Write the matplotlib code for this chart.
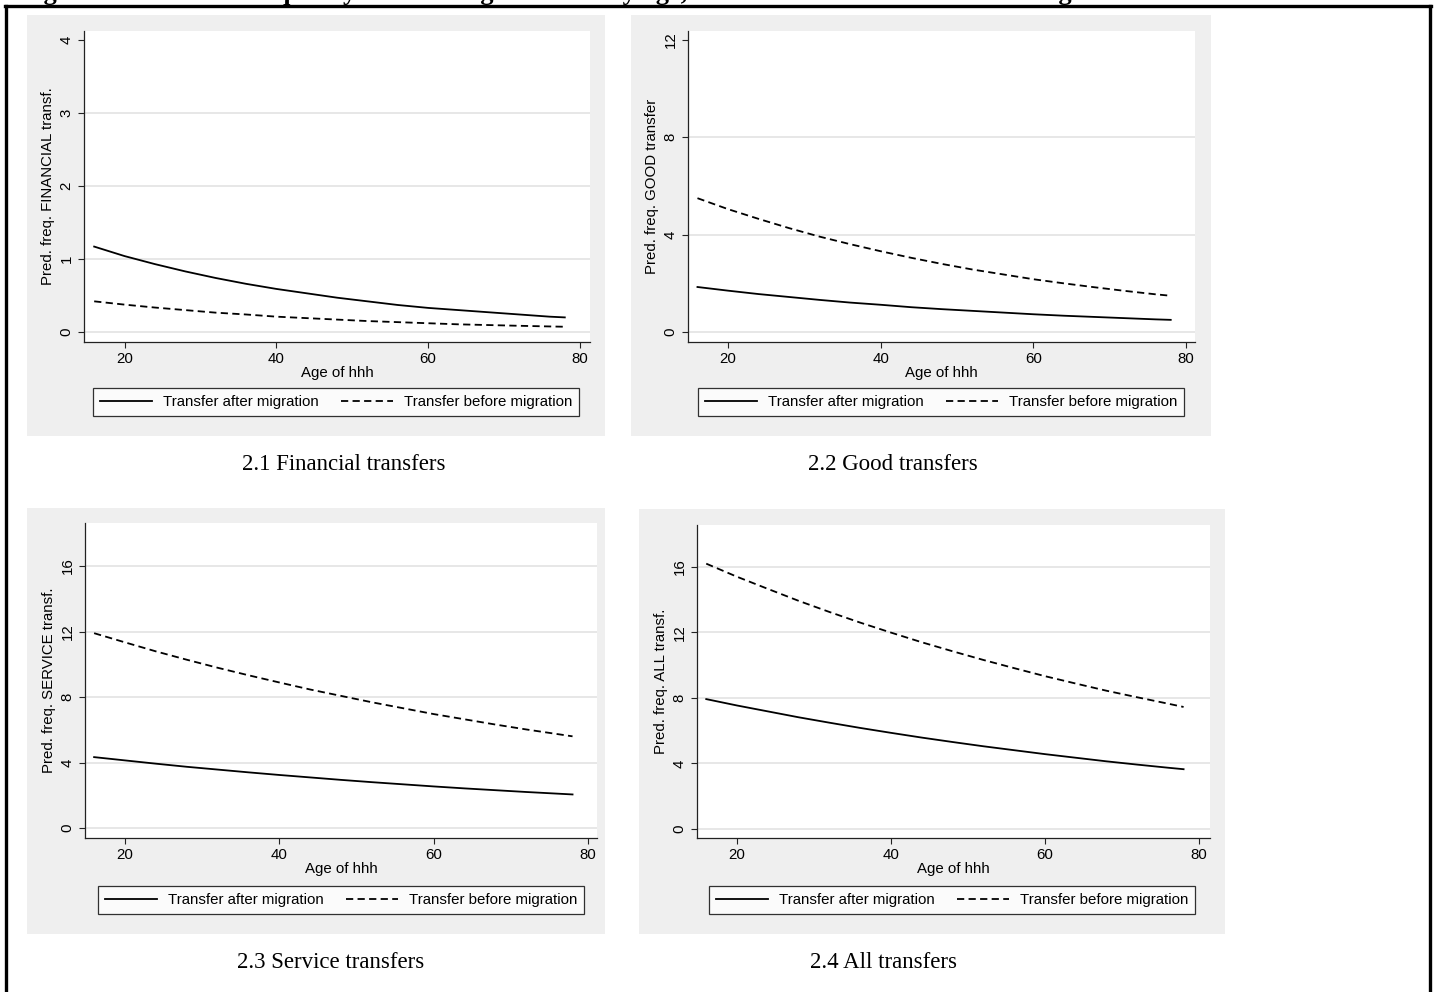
import matplotlib
matplotlib.use("Agg")
import matplotlib.pyplot as plt
from matplotlib.patches import Rectangle
from matplotlib.lines import Line2D

# ages (years) the predictions were read at
age = [16, 20, 24, 28, 32, 36, 40, 44, 48, 52, 56, 60, 64, 68, 72, 76, 78]

fin_after = [1.17, 1.04, 0.93, 0.83, 0.74, 0.66, 0.59, 0.53, 0.47, 0.42, 0.37, 0.33, 0.30, 0.27, 0.24, 0.21, 0.20]
fin_before = [0.42, 0.375, 0.335, 0.30, 0.265, 0.24, 0.21, 0.19, 0.17, 0.15, 0.135, 0.12, 0.105, 0.095, 0.085, 0.076, 0.072]

good_after = [1.85, 1.70, 1.56, 1.44, 1.32, 1.21, 1.12, 1.02, 0.94, 0.87, 0.80, 0.73, 0.67, 0.62, 0.57, 0.52, 0.50]
good_before = [5.50, 5.05, 4.65, 4.27, 3.92, 3.61, 3.32, 3.05, 2.80, 2.57, 2.37, 2.17, 2.00, 1.84, 1.69, 1.55, 1.49]

serv_after = [4.33, 4.13, 3.93, 3.74, 3.57, 3.40, 3.24, 3.09, 2.94, 2.80, 2.67, 2.54, 2.42, 2.31, 2.20, 2.10, 2.05]
serv_before = [11.9, 11.34, 10.79, 10.28, 9.79, 9.33, 8.89, 8.46, 8.07, 7.68, 7.32, 6.96, 6.64, 6.32, 6.02, 5.74, 5.60]

all_after = [7.93, 7.54, 7.18, 6.82, 6.49, 6.17, 5.87, 5.58, 5.31, 5.05, 4.81, 4.57, 4.35, 4.13, 3.93, 3.74, 3.65]
all_before = [16.2, 15.4, 14.66, 13.93, 13.25, 12.60, 11.99, 11.40, 10.85, 10.32, 9.82, 9.33, 8.88, 8.44, 8.04, 7.65, 7.45]

x_ticks = [20, 40, 60, 80]
y_labels = ["Pred. freq. FINANCIAL transf.", "Pred. freq. GOOD transfer",
            "Pred. freq. SERVICE transf.", "Pred. freq. ALL transf."]
y_ticks = [[0, 1, 2, 3, 4], [0, 4, 8, 12], [0, 4, 8, 12, 16], [0, 4, 8, 12, 16]]
captions = ["2.1 Financial transfers", "2.2 Good transfers", "2.3 Service transfers", "2.4 All transfers"]
legend_labels = ["Transfer after migration", "Transfer before migration"]
title = "Figure 2: Predicted frequency of receiving transfers by age, for transfers before and after migration"

W, H = 1436, 992
fs = 10.8

def fbox(x0, y0, x1, y1):
    return [x0 / W, 1 - y1 / H, (x1 - x0) / W, (y1 - y0) / H]

plt.rcParams["font.family"] = ["Liberation Sans", "DejaVu Sans"]

fig = plt.figure(figsize=(W / 100, H / 100), dpi=100)
fig.patch.set_facecolor("white")

# pixel layout of each panel: gray box, plot region, legend centre, caption centre
panels = [
    dict(bg=(27, 15, 605, 436), plot=(84, 31, 590, 342), xlim=(14.66, 81.32), ylim=(-0.137, 4.123),
         leg=(336, 402), cap=(344, 465), grid_top=False),
    dict(bg=(631, 15, 1211, 436), plot=(688, 31, 1195, 342), xlim=(14.76, 81.18), ylim=(-0.41, 12.37),
         leg=(941, 402), cap=(893, 465), grid_top=False),
    dict(bg=(27, 508, 605, 934), plot=(85, 523, 597, 838), xlim=(14.82, 81.17), ylim=(-0.61, 18.63),
         leg=(341, 900), cap=(331, 962), grid_top=True),
    dict(bg=(639, 509, 1225, 934), plot=(697, 525, 1210, 838), xlim=(14.8, 81.43), ylim=(-0.55, 18.56),
         leg=(952, 900), cap=(884, 962), grid_top=True),
]
series = [(fin_after, fin_before), (good_after, good_before),
          (serv_after, serv_before), (all_after, all_before)]

for i, p in enumerate(panels):
    b = fbox(*p["bg"])
    fig.patches.append(Rectangle((b[0], b[1]), b[2], b[3], transform=fig.transFigure,
                                 facecolor="#efefef", edgecolor="none", zorder=-5))
    ax = fig.add_axes(fbox(*p["plot"]))
    ax.set_zorder(1)
    ax.set_facecolor("white")
    after, before = series[i]
    ax.plot(age, after, color="black", lw=1.3, label=legend_labels[0])
    ax.plot(age, before, color="black", lw=1.3, dashes=(4, 2.4), label=legend_labels[1])
    ax.set_xlim(*p["xlim"])
    ax.set_ylim(*p["ylim"])
    ax.set_xticks(x_ticks)
    ax.set_yticks(y_ticks[i])
    grid = y_ticks[i] if p["grid_top"] else y_ticks[i][:-1]
    for g in grid:
        ax.axhline(g, color="#e3e3e3", lw=1.2, zorder=0)
    for s in ["top", "right"]:
        ax.spines[s].set_visible(False)
    for s in ["left", "bottom"]:
        ax.spines[s].set_color("#222222")
        ax.spines[s].set_linewidth(0.9)
    ax.tick_params(direction="out", length=4.5, width=0.8, color="#222222", labelsize=fs, pad=3)
    for t in ax.get_yticklabels():
        t.set_rotation(90)
        t.set_va("center")
    ax.set_xlabel("Age of hhh", fontsize=fs, labelpad=0)
    ax.set_ylabel(y_labels[i], fontsize=fs, labelpad=3)
    lx, ly = p["leg"]
    leg = ax.legend(loc="center", bbox_to_anchor=(lx / W, 1 - ly / H), bbox_transform=fig.transFigure,
                    ncol=2, fontsize=fs, frameon=True, fancybox=False, handlelength=3.5,
                    handletextpad=0.7, columnspacing=1.5, borderpad=0.45, borderaxespad=0)
    leg.get_frame().set_edgecolor("black")
    leg.get_frame().set_linewidth(0.9)
    cx, cy = p["cap"]
    fig.text(cx / W, 1 - cy / H, captions[i], ha="center", va="center",
             fontsize=16.5, family="Liberation Serif")

# title cut off by the page edge, only its bottom shows
fig.text(20 / W, 1.0, title, ha="left", va="baseline", fontsize=19,
         family="Liberation Serif", fontweight="bold")

# outer frame
fig.lines.append(Line2D([6 / W, 6 / W], [0, 1 - 6 / H], transform=fig.transFigure, color="black", lw=2.4))
fig.lines.append(Line2D([1430 / W, 1430 / W], [0, 1 - 6 / H], transform=fig.transFigure, color="black", lw=2.4))
fig.lines.append(Line2D([5 / W, 1431 / W], [1 - 6 / H, 1 - 6 / H], transform=fig.transFigure, color="black", lw=2.4))

fig.savefig("out.png", dpi=100)
